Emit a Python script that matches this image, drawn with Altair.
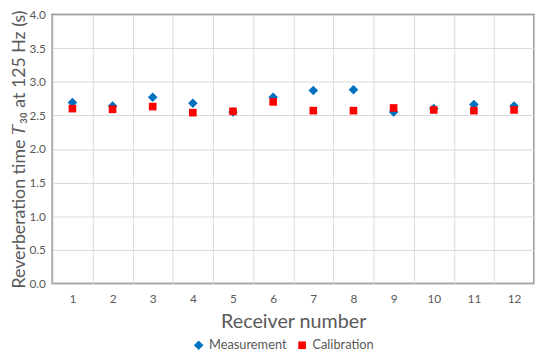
import altair as alt
import pandas as pd

receivers = [1, 2, 3, 4, 5, 6, 7, 8, 9, 10, 11, 12]
measurement = [2.69, 2.64, 2.77, 2.68, 2.55, 2.77, 2.87, 2.88, 2.55, 2.60, 2.66, 2.64]
calibration = [2.60, 2.59, 2.63, 2.54, 2.56, 2.70, 2.57, 2.57, 2.61, 2.58, 2.57, 2.58]
series_names = ["Measurement", "Calibration"]
y_ticks = [0, 0.5, 1.0, 1.5, 2.0, 2.5, 3.0, 3.5, 4.0]

rows = []
for r, v in zip(receivers, measurement):
    rows.append({"receiver": r, "value": v, "series": series_names[0]})
for r, v in zip(receivers, calibration):
    rows.append({"receiver": r, "value": v, "series": series_names[1]})
df = pd.DataFrame(rows)

FONT = "Lato"
GREY = "#595959"

chart = alt.Chart(df).mark_point(filled=True, opacity=1).encode(
    x=alt.X("receiver:O", title="Receiver number",
            scale=alt.Scale(paddingInner=0, paddingOuter=0),
            axis=alt.Axis(labelAngle=0, tickBand="extent", grid=True, ticks=False,
                          domain=False, labelPadding=10, titlePadding=8,
                          labelFontSize=12, titleFontSize=20)),
    y=alt.Y("value:Q", title="Reverberation time 𝑇₃₀ at 125 Hz (s)",
            scale=alt.Scale(domain=[0, 4], nice=False, zero=True),
            axis=alt.Axis(values=y_ticks, format=".1f", ticks=False, domain=False,
                          labelPadding=7, titlePadding=0,
                          labelFontSize=12, titleFontSize=18)),
    color=alt.Color("series:N", sort=series_names,
                    scale=alt.Scale(domain=series_names, range=["#0070C0", "#FF0000"]),
                    legend=alt.Legend(title=None, orient="none", direction="horizontal",
                                      legendX=142, legendY=329,
                                      labelFontSize=13, labelColor=GREY, symbolSize=45,
                                      columnPadding=9, labelFont=FONT)),
    shape=alt.Shape("series:N", sort=series_names,
                    scale=alt.Scale(domain=series_names, range=["diamond", "square"])),
    size=alt.Size("series:N", sort=series_names,
                  scale=alt.Scale(domain=series_names, range=[95, 60]), legend=None),
    order=alt.Order("order:Q"),
).transform_calculate(
    order="datum.series == 'Measurement' ? 0 : 1"
).properties(
    width=489, height=273,
    background="white",
    autosize=alt.AutoSizeParams(type="none"),
    padding={"left": 45, "top": 4, "right": 8, "bottom": 67},
).configure_view(
    stroke="#5f5f5f", strokeWidth=1.5
).configure_axis(
    gridColor="#d9d9d9", gridWidth=1, labelColor=GREY, titleColor=GREY,
    labelFont=FONT, titleFont=FONT, titleFontWeight="normal"
)

chart.save("out.html", embed_options={"renderer": "svg", "actions": False})
